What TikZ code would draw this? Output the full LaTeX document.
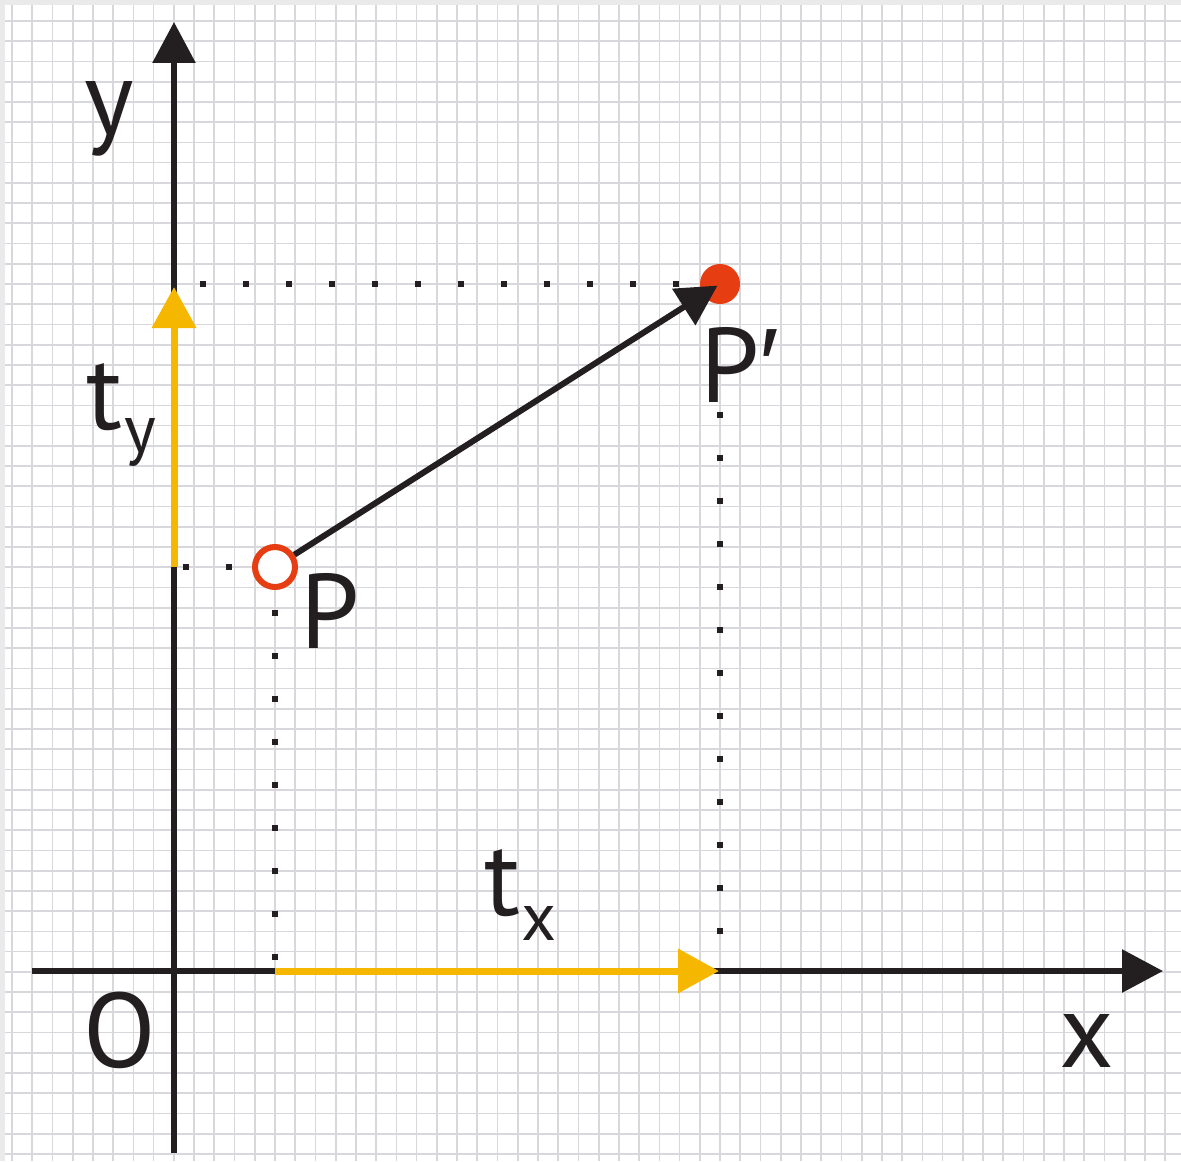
\documentclass[tikz,border=0pt]{standalone}
\usepackage{fontspec}
\setmainfont{PT Sans}
\newfontfamily\primefont{Liberation Sans}
\usetikzlibrary{arrows.meta}
\definecolor{ink}{RGB}{35,31,32}
\definecolor{gridc}{RGB}{216,216,220}
\definecolor{framec}{RGB}{234,234,234}
\definecolor{ptred}{RGB}{230,62,18}
\definecolor{tyel}{RGB}{245,183,0}
\begin{document}
\begin{tikzpicture}[x=0.5pt,y=-0.5pt,
  gridline/.style={draw=gridc,line width=0.85pt},
  axis/.style={draw=ink,line width=3pt,-{Triangle[length=20.5pt,width=21pt]}},
  trans/.style={draw=tyel,line width=3.5pt,-{Triangle[length=20.5pt,width=21.5pt]}},
  move/.style={draw=ink,line width=3pt,-{Triangle[length=20pt,width=21pt]}},
  proj/.style={draw=ink,line width=3.3pt,dash pattern=on 3.3pt off 18.2pt},
  lbl/.style={inner sep=0pt,text=ink,font=\fontsize{53}{60}\selectfont}
]
\useasboundingbox (0,0) rectangle (1181,1161);
\fill[white] (0,0) rectangle (1181,1161);
\fill[framec] (0,0) rectangle (1181,5);
\fill[framec] (0,0) rectangle (5,1161);
% grid
\foreach \i in {0,...,58} \draw[gridline] ({12+20.23*\i},5) -- ({12+20.23*\i},1161);
\foreach \j in {0,...,56} \draw[gridline] (5,{21+20.23*\j}) -- (1181,{21+20.23*\j});
% coordinates
\coordinate (O) at (174,971);
\coordinate (ybot) at (174,1153);
\coordinate (ytop) at (174,22);
\coordinate (xl) at (32,971);
\coordinate (xr) at (1163,971);
\coordinate (Px) at (275,971);
\coordinate (Ppx) at (719,971);
\coordinate (Py) at (174,567);
\coordinate (Ppy) at (174,287);
% axes
\draw[axis] (ybot) -- (ytop);
\draw[axis] (xl) -- (xr);
% translation components
\draw[trans] (Px) -- (Ppx);
\draw[trans] (Py) -- (Ppy);
% projection dots
\coordinate (d1a) at (199.7,284); \coordinate (d1b) at (680,284);
\coordinate (d2a) at (720,411.7); \coordinate (d2b) at (720,935);
\coordinate (d3a) at (275,609.7); \coordinate (d3b) at (275,961);
\coordinate (d4a) at (182.7,567); \coordinate (d4b) at (232,567);
\draw[proj] (d1a) -- (d1b);
\draw[proj] (d2a) -- (d2b);
\draw[proj] (d3a) -- (d3b);
\draw[proj] (d4a) -- (d4b);
% points
\node[circle,draw=ptred,line width=3pt,fill=white,minimum size=20pt,inner sep=0pt] (P) at (275,567) {};
\node[circle,fill=ptred,minimum size=20pt,inner sep=0pt] (Pp) at (720,284) {};
\draw[move,shorten >=1.5pt] (P) -- (Pp.center);
% labels
\node[lbl,anchor=base] (ylab) at (109,134) {y};
\node[lbl,anchor=base] (olab) at (120,1067) {O};
\node[lbl,anchor=base] (xlab) at (1087,1067) {x};
\node[lbl,anchor=base west] (plab) at (300,648) {P};
\node[lbl,anchor=base west] (pplab) at (700,402) {P{\primefont\char"2032}};
\node[lbl,anchor=base west] (tylab) at (86,429) {t\kern1pt\raisebox{-11.5pt}{\fontsize{34}{40}\selectfont y}};
\node[lbl,anchor=base west] (txlab) at (484,915) {t\kern0.5pt\raisebox{-12.5pt}{\fontsize{34}{40}\selectfont x}};
\end{tikzpicture}
\end{document}
